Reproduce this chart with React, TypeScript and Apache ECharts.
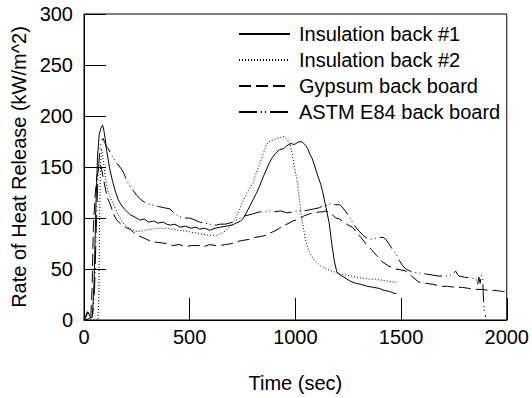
import React, { useEffect, useRef } from "react";
import * as echarts from "echarts";

// Time (sec) vs Rate of Heat Release (kW/m^2)
const insulation1: [number, number][] = [
  [0, 0], [8, 4], [16, 8], [24, 6], [32, 2], [40, 3], [48, 40], [56, 110], [64, 160], [72, 182],
  [80, 188], [88, 191], [94, 186], [100, 178], [108, 165], [116, 155], [123, 147], [135, 136],
  [150, 125], [162, 118], [175, 113], [190, 109], [205, 106], [220, 103], [240, 101], [264, 98],
  [285, 99], [305, 96], [330, 97], [350, 95], [375, 96], [390, 94], [410, 93], [430, 94],
  [455, 91], [480, 92], [505, 90], [530, 91], [547, 89], [570, 90], [595, 88], [620, 90],
  [645, 91], [673, 92], [700, 93], [720, 95], [740, 97], [751, 99], [765, 104], [783, 111],
  [800, 118], [815, 124], [830, 131], [845, 139], [862, 147], [877, 154], [890, 159], [905, 163],
  [925, 167], [945, 168], [960, 171], [980, 173], [995, 172], [1010, 174], [1027, 175],
  [1040, 173], [1050, 171], [1058, 168], [1070, 162], [1080, 158], [1090, 152], [1105, 142],
  [1120, 133], [1129, 126], [1145, 110], [1160, 95], [1172, 75], [1184, 58], [1195, 48],
  [1205, 45], [1230, 42], [1260, 38], [1286, 36], [1310, 35], [1340, 33], [1370, 32],
  [1396, 31], [1420, 29], [1445, 28], [1470, 26], [1478, 26],
];

const insulation2: [number, number][] = [
  [0, 0], [20, 0], [40, 0], [60, 0], [66, 0], [70, 20], [74, 100], [78, 150], [82, 168],
  [86, 165], [91, 157], [98, 145], [107, 131], [120, 122], [138, 114], [155, 106], [170, 100],
  [185, 95], [201, 92], [225, 89], [245, 87], [264, 87], [290, 88], [320, 89], [350, 90],
  [390, 90], [420, 89], [450, 88], [484, 87], [510, 86], [540, 85], [563, 84], [594, 83],
  [626, 83], [650, 85], [673, 88], [690, 92], [705, 96], [720, 101], [736, 108], [750, 116],
  [765, 122], [780, 128], [799, 134], [815, 144], [830, 152], [846, 162], [860, 170],
  [870, 174], [885, 176], [900, 177], [915, 178], [930, 179], [948, 180], [958, 178],
  [965, 176], [975, 172], [985, 163], [995, 150], [1005, 140], [1011, 133], [1019, 118],
  [1027, 104], [1038, 90], [1050, 77], [1065, 67], [1082, 61], [1097, 57], [1120, 53],
  [1140, 51], [1160, 49], [1185, 47], [1208, 45], [1240, 44], [1265, 43], [1286, 42],
  [1320, 41], [1350, 40], [1380, 40], [1410, 39], [1440, 38], [1475, 37], [1485, 37],
];

const gypsum: [number, number][] = [
  [0, 0], [10, 3], [18, 8], [25, 5], [32, 2], [38, 30], [44, 88], [52, 120], [60, 140],
  [68, 146], [75, 152], [82, 150], [90, 140], [100, 130], [110, 120], [123, 114], [140, 104],
  [154, 98], [175, 94], [195, 91], [217, 89], [240, 85], [265, 82], [296, 79], [320, 77],
  [350, 76], [390, 75], [421, 73], [450, 74], [480, 72], [510, 73], [547, 73], [570, 72],
  [594, 74], [620, 73], [642, 73], [670, 74], [700, 75], [725, 77], [751, 78], [780, 79],
  [810, 81], [840, 82], [862, 83], [877, 85], [900, 87], [925, 90], [950, 93], [970, 95],
  [987, 97], [1003, 98], [1019, 99], [1040, 102], [1066, 104], [1090, 105], [1113, 106],
  [1129, 106], [1145, 107], [1170, 104], [1192, 100], [1208, 99], [1230, 96], [1250, 93],
  [1270, 91], [1290, 86], [1310, 81], [1333, 75], [1360, 69], [1385, 63], [1412, 57],
  [1440, 53], [1475, 50], [1500, 49], [1522, 48], [1550, 43], [1585, 37], [1616, 36],
  [1650, 35], [1690, 33], [1720, 33], [1758, 32], [1790, 32], [1820, 31], [1850, 30],
  [1884, 30], [1920, 29], [1950, 29], [1975, 28], [2000, 28],
];

const astm: [number, number][] = [
  [0, 0], [20, 1], [40, 3], [50, 30], [58, 90], [66, 140], [74, 165], [82, 176], [90, 178],
  [98, 174], [106, 170], [115, 168], [130, 162], [150, 155], [170, 150], [186, 145],
  [200, 138], [215, 132], [233, 127], [250, 122], [270, 118], [296, 114], [320, 113],
  [340, 112], [358, 111], [380, 110], [406, 109], [430, 104], [453, 101], [480, 100],
  [500, 100], [525, 98], [547, 96], [570, 95], [595, 94], [626, 93], [645, 94], [670, 94],
  [704, 96], [730, 99], [760, 102], [799, 104], [830, 106], [860, 106], [877, 107], [900, 106],
  [930, 107], [960, 105], [987, 106], [1010, 107], [1040, 107], [1066, 108], [1090, 109],
  [1113, 110], [1130, 112], [1145, 112], [1168, 114], [1190, 113], [1208, 113], [1220, 111],
  [1240, 106], [1255, 101], [1270, 96], [1285, 91], [1302, 87], [1320, 83], [1340, 80],
  [1360, 79], [1380, 80], [1400, 81], [1415, 81], [1428, 79], [1445, 74], [1460, 69],
  [1475, 65], [1490, 59], [1505, 54], [1522, 50], [1553, 47], [1590, 46], [1620, 45],
  [1650, 44], [1679, 43], [1710, 43], [1735, 44], [1750, 46], [1758, 48], [1766, 45],
  [1774, 43], [1800, 42], [1836, 41], [1855, 40], [1862, 35], [1868, 42], [1874, 36],
  [1880, 44], [1886, 40], [1890, 20], [1895, 8], [1900, 3],
];

const seriesNames = [
  "Insulation back #1",
  "Insulation back #2",
  "Gypsum back board",
  "ASTM E84 back board",
];

const FONT = "'Liberation Sans', Arial, sans-serif";

export default function App() {
  const ref = useRef<HTMLDivElement>(null);
  useEffect(() => {
    if (!ref.current) return;
    const chart = echarts.init(ref.current, null, { renderer: "svg" });
    const mk = (name: string, data: [number, number][], type: any) => ({
      name,
      type: "line",
      data,
      symbol: "none",
      lineStyle: { color: "#000", width: 1, type },
      itemStyle: { color: "#000" },
      emphasis: { disabled: true },
    });
    chart.setOption({
      animation: false,
      textStyle: { fontFamily: FONT },
      grid: {
        left: 84,
        right: 23,
        top: 14,
        bottom: 78,
        show: true,
        borderColor: "#000",
        borderWidth: 1,
        backgroundColor: "transparent",
      },
      legend: {
        orient: "vertical",
        left: 233,
        top: 19,
        itemWidth: 51,
        itemHeight: 20,
        itemGap: 6,
        itemStyle: { opacity: 0, borderWidth: 0 },
        textStyle: { fontSize: 20, color: "#000", fontFamily: FONT, padding: [0, 0, 0, 4] },
        data: seriesNames,
      },
      xAxis: {
        type: "value",
        min: 0,
        max: 2000,
        interval: 500,
        name: "Time (sec)",
        nameLocation: "middle",
        nameGap: 53,
        nameTextStyle: { fontSize: 20, color: "#000", fontFamily: FONT },
        axisLine: { lineStyle: { color: "#000", width: 1 } },
        axisTick: { inside: true, length: 22, lineStyle: { color: "#000" } },
        axisLabel: {
          fontSize: 20,
          color: "#000",
          margin: 7,
          fontFamily: FONT,
          formatter: (v: number) => String(v),
        },
        splitLine: { show: false },
      },
      yAxis: {
        type: "value",
        min: 0,
        max: 300,
        interval: 50,
        name: "Rate of Heat Release (kW/m^2)",
        nameLocation: "middle",
        nameGap: 55,
        nameTextStyle: { fontSize: 20, color: "#000", fontFamily: FONT },
        axisLine: { show: true, lineStyle: { color: "#000", width: 1 } },
        axisTick: { show: true, inside: true, length: 22, lineStyle: { color: "#000" } },
        axisLabel: {
          fontSize: 20,
          color: "#000",
          margin: 11,
          fontFamily: FONT,
          formatter: (v: number) => String(v),
        },
        splitLine: { show: false },
      },
      series: [
        mk(seriesNames[0], insulation1, "solid"),
        mk(seriesNames[1], insulation2, [1, 2]),
        mk(seriesNames[2], gypsum, [12, 5]),
        mk(seriesNames[3], astm, [18, 4, 1, 3, 1, 4]),
      ],
    });
    return () => chart.dispose();
  }, []);
  return (
    <div
      ref={ref}
      style={{ position: "fixed", left: 0, top: 0, width: 532, height: 398, background: "#fff" }}
    />
  );
}
